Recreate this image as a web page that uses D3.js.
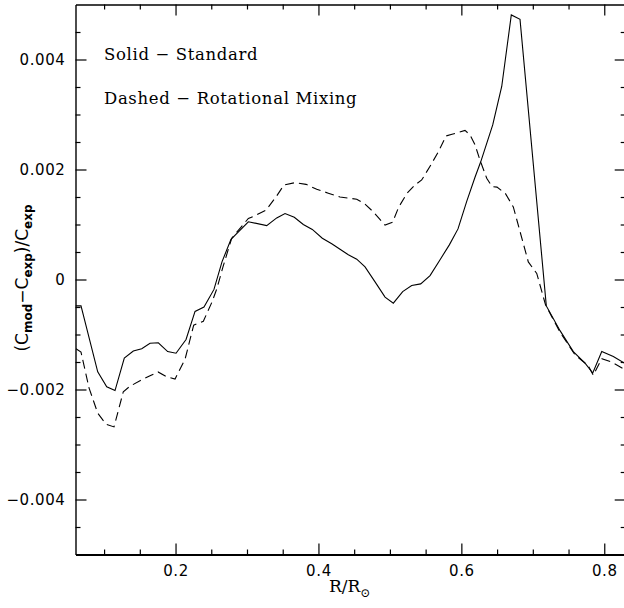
<!DOCTYPE html>
<html>
<head>
<meta charset="utf-8">
<script src="https://cdn.jsdelivr.net/npm/d3@7"></script>
<style>
  body { margin: 0; background: #fff; }
  svg { display: block; }
  .tick text { font-family: "DejaVu Sans", sans-serif; font-size: 15px; letter-spacing: 0.6px; fill: #000; }
</style>
</head>
<body>
<svg id="chart" width="624" height="608"></svg>
<script>
// R/Rsun and relative difference, solid = standard model
var solidR = [0.0600, 0.0677, 0.0911, 0.1037, 0.1153, 0.1283, 0.1409, 0.1527, 0.1643, 0.1759,
    0.1890, 0.2007, 0.2147, 0.2273, 0.2398, 0.2538, 0.2650, 0.2776, 0.3019, 0.3276,
    0.3416, 0.3532, 0.3662, 0.3788, 0.3914, 0.4054, 0.4186, 0.4302, 0.4418, 0.4536,
    0.4652, 0.4806, 0.4932, 0.5048, 0.5179, 0.5305, 0.5431, 0.5562, 0.5702, 0.5832,
    0.5953, 0.6075, 0.6191, 0.6271, 0.6439, 0.6565, 0.6699, 0.6821, 0.7189, 0.7381,
    0.7567, 0.7731, 0.7839, 0.7965, 0.8127, 0.8305];
var solidDiff = [-0.00048, -0.00048, -0.00168, -0.00195, -0.00202, -0.00143, -0.00130, -0.00126, -0.00116, -0.00115,
    -0.00131, -0.00134, -0.00109, -0.00058, -0.00050, -0.00018, 0.00032, 0.00073, 0.00105, 0.00098,
    0.00112, 0.00120, 0.00113, 0.00100, 0.00091, 0.00075, 0.00065, 0.00055, 0.00045, 0.00037,
    0.00023, -0.00007, -0.00032, -0.00043, -0.00022, -0.00011, -0.00008, 0.00007, 0.00036, 0.00063,
    0.00092, 0.00142, 0.00186, 0.00214, 0.00281, 0.00351, 0.00481, 0.00473, -0.00048, -0.00093,
    -0.00131, -0.00152, -0.00170, -0.00131, -0.00140, -0.00154];

// dashed = rotational mixing
var mixR = [0.0607, 0.0677, 0.0789, 0.0911, 0.1027, 0.1139, 0.1269, 0.1363, 0.1503, 0.1643,
    0.1755, 0.1876, 0.1993, 0.2133, 0.2254, 0.2389, 0.2510, 0.2580, 0.2664, 0.2786,
    0.3019, 0.3112, 0.3266, 0.3416, 0.3518, 0.3672, 0.3826, 0.3976, 0.4138, 0.4302,
    0.4536, 0.4652, 0.4768, 0.4932, 0.5037, 0.5121, 0.5235, 0.5352, 0.5445, 0.5562,
    0.5678, 0.5786, 0.5870, 0.6051, 0.6121, 0.6191, 0.6261, 0.6355, 0.6429, 0.6499,
    0.6618, 0.6727, 0.6937, 0.7055, 0.7178, 0.7381, 0.7591, 0.7777, 0.7847, 0.7965,
    0.8105, 0.8305];
var mixDiff = [-0.00126, -0.00132, -0.00197, -0.00243, -0.00263, -0.00268, -0.00204, -0.00194, -0.00184, -0.00175,
    -0.00168, -0.00177, -0.00181, -0.00145, -0.00083, -0.00076, -0.00041, -0.00016, 0.00023, 0.00075,
    0.00111, 0.00116, 0.00126, 0.00152, 0.00172, 0.00176, 0.00173, 0.00164, 0.00157, 0.00150,
    0.00146, 0.00137, 0.00123, 0.00099, 0.00104, 0.00131, 0.00156, 0.00172, 0.00181, 0.00206,
    0.00232, 0.00261, 0.00264, 0.00271, 0.00263, 0.00245, 0.00217, 0.00184, 0.00169, 0.00168,
    0.00156, 0.00132, 0.00032, 0.00011, -0.00046, -0.00096, -0.00137, -0.00157, -0.00174, -0.00144,
    -0.00150, -0.00165];

var majorX = [0.2, 0.4, 0.6, 0.8];
var majorY = [-0.004, -0.002, 0, 0.002, 0.004];
var legendLines = ["Solid \u2212 Standard", "Dashed \u2212 Rotational Mixing"];

var svg = d3.select("#chart");
var plotLeft = 75.5, plotRight = 625.7, plotTop = 4.5, plotBottom = 554.5;

var x = d3.scaleLinear().domain([0.06, 0.83]).range([plotLeft, plotRight]);
var y = d3.scaleLinear().domain([-0.005, 0.005]).range([plotBottom, plotTop]);

var minorX = d3.range(0.1, 0.83, 0.05).filter(function(v) {
    return Math.abs(v * 10 - Math.round(v * 10)) > 0.01 || Math.round(v * 10) % 2 == 1;
});
var minorY = d3.range(-0.0045, 0.005, 0.0005).filter(function(v) {
    return Math.abs(v * 500 - Math.round(v * 500)) > 0.01;
});

function fmtY(d) {
    if (d == 0) return "0";
    return (d < 0 ? "\u2212" : "") + Math.abs(d).toFixed(3);
}

function drawAxis(axisFn, scale, major, minor, fmt, transform) {
    var g = svg.append("g").attr("transform", transform);
    g.call(axisFn(scale).tickValues(minor).tickSize(-5).tickSizeOuter(0).tickFormat(""));
    g.select(".domain").remove();
    var g2 = svg.append("g").attr("transform", transform);
    g2.call(axisFn(scale).tickValues(major).tickSize(-11).tickSizeOuter(0)
        .tickPadding(10).tickFormat(fmt || ""));
    return g2;
}

var bx = drawAxis(d3.axisBottom, x, majorX, minorX, d3.format(".1f"), "translate(0," + plotBottom + ")");
var tx = drawAxis(d3.axisTop, x, majorX, minorX, null, "translate(0," + plotTop + ")");
var ly = drawAxis(d3.axisLeft, y, majorY, minorY, fmtY, "translate(" + plotLeft + ",0)");
var ry = drawAxis(d3.axisRight, y, majorY, minorY, null, "translate(" + plotRight + ",0)");

svg.selectAll(".tick line").attr("stroke", "#000").attr("stroke-width", 1.2);
svg.selectAll(".domain").attr("stroke", "#000").attr("stroke-width", 1.4);
bx.select(".domain").attr("stroke-width", 2.2);
bx.selectAll(".tick text").attr("dy", null).attr("y", 21.5);
ly.selectAll(".tick text").attr("x", -10);

svg.append("clipPath").attr("id", "plotclip")
    .append("rect").attr("x", plotLeft).attr("y", plotTop)
    .attr("width", plotRight - plotLeft).attr("height", plotBottom - plotTop);

var line = d3.line()
    .x(function(d) { return x(d[0]); })
    .y(function(d) { return y(d[1]); });

svg.append("path")
    .datum(d3.zip(solidR, solidDiff))
    .attr("clip-path", "url(#plotclip)")
    .attr("fill", "none")
    .attr("stroke", "#000")
    .attr("stroke-width", 1.1)
    .attr("d", line);

svg.append("path")
    .datum(d3.zip(mixR, mixDiff))
    .attr("clip-path", "url(#plotclip)")
    .attr("fill", "none")
    .attr("stroke", "#000")
    .attr("stroke-width", 1.1)
    .attr("stroke-dasharray", "9,5")
    .attr("d", line);

// legend text
svg.selectAll(".legend")
    .data(legendLines)
    .enter().append("text")
    .attr("class", "legend")
    .attr("x", 104)
    .attr("y", function(d, i) { return 60 + i * 44; })
    .attr("font-family", "DejaVu Serif, serif")
    .attr("font-size", 16.5)
    .attr("letter-spacing", 0.65)
    .text(function(d) { return d; });

// x label
var xl = svg.append("text")
    .attr("x", 329)
    .attr("y", 592)
    .attr("font-family", "DejaVu Serif, serif")
    .attr("font-size", 17);
xl.append("tspan").text("R/R");
xl.append("tspan").attr("dy", 5).attr("font-size", 12).text("\u2299");

// y label
var yl = svg.append("text")
    .attr("transform", "translate(28,278) rotate(-90)")
    .attr("text-anchor", "middle")
    .attr("font-family", "DejaVu Sans, sans-serif")
    .attr("font-size", 17);
yl.append("tspan").text("(C");
yl.append("tspan").attr("dy", 4).attr("font-size", 12).attr("font-weight", "bold").text("mod");
yl.append("tspan").attr("dy", -4).text("\u2212C");
yl.append("tspan").attr("dy", 4).attr("font-size", 12).attr("font-weight", "bold").text("exp");
yl.append("tspan").attr("dy", -4).text(")/C");
yl.append("tspan").attr("dy", 4).attr("font-size", 12).attr("font-weight", "bold").text("exp");
</script>
</body>
</html>
